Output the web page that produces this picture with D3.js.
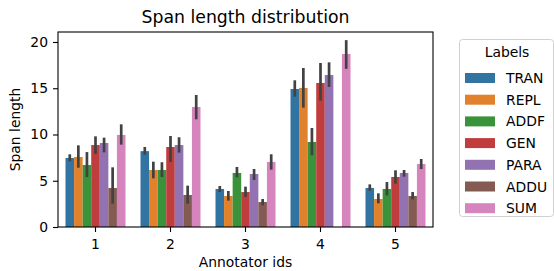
<!DOCTYPE html>
<html lang="en">
<head>
<meta charset="UTF-8">
<title>Span length distribution</title>
<script src="https://d3js.org/d3.v7.min.js"></script>
<style>
    body { margin: 0; background: #fff; }
    svg { font-family: "DejaVu Sans", sans-serif; }
</style>
</head>
<body>
<svg width="554" height="271"></svg>
<script>
// annotators on the x axis, one hue per label
const annotators = ["1", "2", "3", "4", "5"];
const labels = ["TRAN", "REPL", "ADDF", "GEN", "PARA", "ADDU", "SUM"];
const colors = ["#3274a1", "#e1812c", "#3a923a", "#c03d3e", "#9372b2", "#845b53", "#d684bd"];

// mean span length per label, one value per annotator (null = no bar)
const meanTRAN = [7.46, 8.2, 4.11, 14.92, 4.22];
const meanREPL = [7.57, 6.16, 3.35, 15.03, 3.03];
const meanADDF = [6.7, 6.16, 5.84, 9.19, 4.11];
const meanGEN  = [8.86, 8.65, 3.78, 15.57, 5.41];
const meanPARA = [9.08, 8.86, 5.73, 16.43, 5.84];
const meanADDU = [4.22, 3.46, 2.7, null, 3.35];
const meanSUM  = [9.95, 12.97, 7.03, 18.7, 6.81];

// confidence interval ends
const lowTRAN = [7.1, 7.82, 3.78, 14.09, 3.93];
const highTRAN = [7.86, 8.65, 4.43, 15.86, 4.61];
const lowREPL = [6.41, 5.26, 2.85, 12.9, 2.56];
const highREPL = [8.83, 7.06, 3.89, 17.19, 3.64];
const lowADDF = [5.4, 5.4, 5.37, 7.75, 3.42];
const highADDF = [8.1, 7.0, 6.49, 10.7, 4.86];
const lowGEN = [7.9, 7.03, 3.24, 13.66, 4.68];
const highGEN = [9.8, 9.84, 4.36, 17.73, 6.13];
const lowPARA = [8.07, 8.04, 5.08, 15.14, 5.44];
const highPARA = [9.66, 9.7, 6.27, 17.8, 6.16];
const lowADDU = [2.52, 2.52, 2.34, null, 2.99];
const highADDU = [6.45, 4.47, 3.03, null, 3.78];
const lowSUM = [8.9, 11.64, 6.2, 17.1, 6.27];
const highSUM = [11.1, 14.27, 7.86, 20.2, 7.35];

const yTicks = [0, 5, 10, 15, 20];

const means = [meanTRAN, meanREPL, meanADDF, meanGEN, meanPARA, meanADDU, meanSUM];
const lows = [lowTRAN, lowREPL, lowADDF, lowGEN, lowPARA, lowADDU, lowSUM];
const highs = [highTRAN, highREPL, highADDF, highGEN, highPARA, highADDU, highSUM];

const rows = [];
labels.forEach((lab, li) => {
    annotators.forEach((a, ai) => {
        if (means[li][ai] == null) return;
        rows.push({ label: lab, annot: a, mean: means[li][ai], lo: lows[li][ai], hi: highs[li][ai], color: colors[li] });
    });
});

const margin = { top: 32, right: 121, bottom: 44, left: 58 };
const width = 554 - margin.left - margin.right;
const height = 271 - margin.top - margin.bottom;

const svg = d3.select("svg");
const g = svg.append("g")
    .attr("transform", "translate(" + margin.left + "," + margin.top + ")");

const x = d3.scaleBand()
    .domain(annotators)
    .range([0, width])
    .paddingInner(0.2)
    .paddingOuter(0.1);

const xHue = d3.scaleBand()
    .domain(labels)
    .range([0, x.bandwidth()]);

const y = d3.scaleLinear()
    .domain([0, 21.08])
    .range([height, 0]);

// bars
g.append("g")
    .selectAll("rect")
    .data(rows)
    .enter().append("rect")
    .attr("x", d => x(d.annot) + xHue(d.label))
    .attr("y", d => y(d.mean))
    .attr("width", xHue.bandwidth())
    .attr("height", d => y(0) - y(d.mean))
    .attr("fill", d => d.color);

// error bars
g.append("g")
    .selectAll("line")
    .data(rows)
    .enter().append("line")
    .attr("x1", d => x(d.annot) + xHue(d.label) + xHue.bandwidth() / 2)
    .attr("x2", d => x(d.annot) + xHue(d.label) + xHue.bandwidth() / 2)
    .attr("y1", d => y(d.lo))
    .attr("y2", d => y(d.hi))
    .attr("stroke", "#424242")
    .attr("stroke-width", 2.7);

// axes
const xAxis = g.append("g")
    .attr("transform", "translate(0," + height + ")")
    .call(d3.axisBottom(x).tickSize(5).tickSizeOuter(0));
const yAxis = g.append("g")
    .call(d3.axisLeft(y).tickValues(yTicks).tickSize(5).tickSizeOuter(0));

[xAxis, yAxis].forEach(ax => {
    ax.select(".domain").remove();
    ax.selectAll("line").attr("stroke", "#000").attr("stroke-width", 1.1);
    ax.selectAll("text")
        .attr("font-family", "DejaVu Sans")
        .attr("font-size", "13.9px")
        .attr("fill", "#000");
});
xAxis.selectAll("text").attr("dy", "1.0em");
yAxis.selectAll("text").attr("x", -10);

// frame
g.append("rect")
    .attr("width", width)
    .attr("height", height)
    .attr("fill", "none")
    .attr("stroke", "#000")
    .attr("stroke-width", 1.1);

// title and labels
svg.append("text")
    .attr("x", margin.left + width / 2)
    .attr("y", 22.5)
    .attr("text-anchor", "middle")
    .attr("font-size", "17.3px")
    .text("Span length distribution");

svg.append("text")
    .attr("x", margin.left + width / 2)
    .attr("y", 267)
    .attr("text-anchor", "middle")
    .attr("font-size", "13.9px")
    .text("Annotator ids");

svg.append("text")
    .attr("transform", "translate(20," + (margin.top + height / 2) + ") rotate(-90)")
    .attr("text-anchor", "middle")
    .attr("font-size", "13.9px")
    .text("Span length");

// legend
const lg = svg.append("g").attr("transform", "translate(459,39)");
lg.append("rect")
    .attr("x", 0.5).attr("y", 0.5)
    .attr("width", 94).attr("height", 177)
    .attr("rx", 3)
    .attr("fill", "#fff")
    .attr("stroke", "#d0d0d0")
    .attr("stroke-width", 1);
lg.append("text")
    .attr("x", 48)
    .attr("y", 18)
    .attr("text-anchor", "middle")
    .attr("font-size", "13.9px")
    .text("Labels");
const item = lg.selectAll(".item")
    .data(labels)
    .enter().append("g")
    .attr("transform", (d, i) => "translate(6," + (34 + i * 21.7) + ")");
item.append("rect")
    .attr("width", 30)
    .attr("height", 10)
    .attr("fill", (d, i) => colors[i]);
item.append("text")
    .attr("x", 41)
    .attr("y", 10)
    .attr("font-size", "13.9px")
    .text(d => d);
</script>
</body>
</html>
